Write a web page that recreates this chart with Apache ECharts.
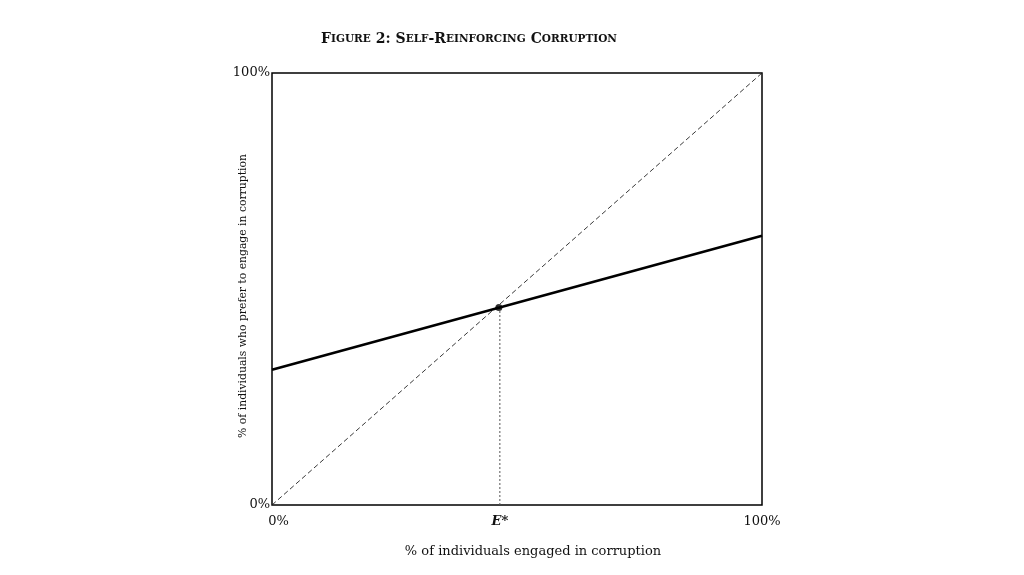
<!DOCTYPE html>
<html>
<head>
<meta charset="utf-8">
<script src="https://cdn.jsdelivr.net/npm/echarts@6/dist/echarts.min.js"></script>
<style>
  html, body { margin: 0; padding: 0; background: #fff; }
  #main { width: 1024px; height: 575px; }
</style>
</head>
<body>
<div id="main"></div>
<script>
// data (percent)
var xTicks = [0, 46.5, 100];
var yTicks = [0, 100];
var diagonal = [[0, 0], [100, 100]];
var responseCurve = [[0, 31.3], [100, 62.3]];
var equilibrium = [46.3, 45.7];
var dropLine = [[46.5, 0], [46.5, 45.7]];

var serif = 'DejaVu Serif';
var myChart = echarts.init(document.getElementById('main'));

var option = {
    backgroundColor: '#fff',
    animation: false,
    title: {
        text: '{b|F}{s|IGURE} {b|2: S}{s|ELF}{b|-R}{s|EINFORCING} {b|C}{s|ORRUPTION}',
        left: 464,
        top: 25,
        textAlign: 'center',
        textStyle: {
            rich: {
                b: { fontFamily: serif, fontWeight: 'bold', fontSize: 14, color: '#111' },
                s: { fontFamily: serif, fontWeight: 'bold', fontSize: 10.5, color: '#111' }
            }
        }
    },
    grid: {
        left: 272,
        right: 262,
        top: 73,
        bottom: 70,
        show: true,
        borderColor: '#000',
        borderWidth: 1.5,
        backgroundColor: 'transparent'
    },
    xAxis: {
        type: 'value',
        min: 0,
        max: 100,
        name: '% of individuals engaged in corruption',
        nameLocation: 'middle',
        nameGap: 40,
        nameMoveOverlap: false,
        nameTextStyle: { fontFamily: serif, fontSize: 13, color: '#111', padding: [0, 0, 0, 32] },
        splitLine: { show: false },
        axisLine: { show: false },
        axisTick: { show: false },
        axisLabel: {
            customValues: xTicks,
            margin: 10,
            fontFamily: serif,
            fontSize: 13,
            color: '#111',
            formatter: function (v) {
                if (v === 0) return '{p|0%}';
                if (v === 100) return '100%';
                return '{e|E*}';
            },
            rich: {
                p: { fontFamily: serif, fontSize: 13, color: '#111', padding: [0, 0, 0, 13] },
                e: { fontFamily: serif, fontSize: 13, fontWeight: 'bold', fontStyle: 'italic', color: '#111' }
            }
        }
    },
    yAxis: {
        type: 'value',
        min: 0,
        max: 100,
        name: '% of individuals who prefer to engage in corruption',
        nameLocation: 'middle',
        nameGap: 23,
        nameMoveOverlap: false,
        nameTextStyle: { fontFamily: serif, fontSize: 10.8, color: '#111', padding: [0, 14, 0, 0] },
        splitLine: { show: false },
        axisLine: { show: false },
        axisTick: { show: false },
        axisLabel: {
            customValues: yTicks,
            margin: 2,
            fontFamily: serif,
            fontSize: 13,
            color: '#111',
            formatter: function (v) { return v + '%'; }
        }
    },
    series: [{
        name: '45 degree',
        type: 'line',
        data: diagonal,
        symbol: 'none',
        lineStyle: { color: '#222', width: 0.9, type: [5, 3] },
        z: 2
    }, {
        name: 'drop',
        type: 'line',
        data: dropLine,
        symbol: 'none',
        lineStyle: { color: '#555', width: 1, type: [2, 2] },
        z: 2
    }, {
        name: 'response',
        type: 'line',
        data: responseCurve,
        symbol: 'none',
        lineStyle: { color: '#000', width: 2.6 },
        z: 3
    }, {
        name: 'E*',
        type: 'scatter',
        data: [equilibrium],
        symbolSize: 7,
        itemStyle: { color: '#000' },
        z: 4
    }]
};
myChart.setOption(option);
</script>
</body>
</html>
